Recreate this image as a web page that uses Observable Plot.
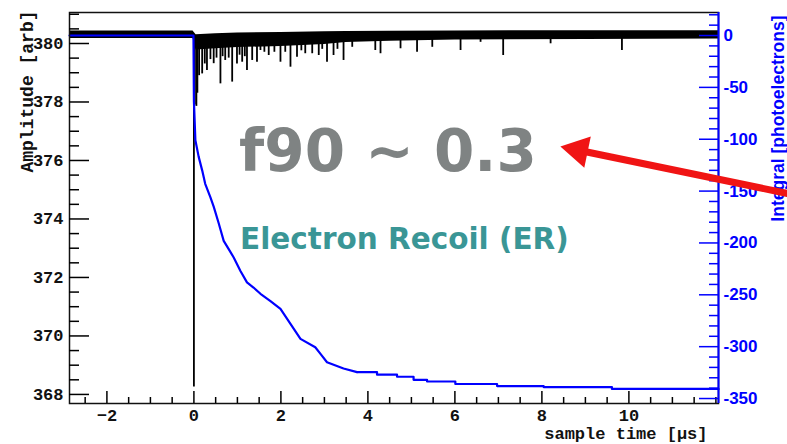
<!DOCTYPE html>
<html><head><meta charset="utf-8">
<script src="https://cdn.jsdelivr.net/npm/d3@7"></script>
<script src="https://cdn.jsdelivr.net/npm/@observablehq/plot@0.6"></script>
<style>
html,body{margin:0;padding:0;background:#fff;}
#chart svg{display:block;}
</style></head><body><div id="chart"></div>
<script>
// ---- scales / ticks ----
const xDomain = [-2.86, 12.06];
const ampDomain = [367.69, 381.06];
const intDomain = [-354.8, 22.2];
const xMajorTicks = [-2, 0, 2, 4, 6, 8, 10];
const ampMajorTicks = [368, 370, 372, 374, 376, 378, 380];
const intMajorTicks = [0, -50, -100, -150, -200, -250, -300, -350];

// ---- waveform (black): noise band envelope ----
const envTime = [-2.86, -0.02, 0.05, 0.5, 1.0, 2.0, 3.0, 3.5, 4.5, 6.0, 9.0, 12.06];
const envLow  = [380.17, 380.17, 379.78, 379.82, 379.86, 379.9, 379.97, 380.03, 380.08, 380.12, 380.14, 380.15];
const envHigh = [380.43, 380.43, 380.3, 380.33, 380.36, 380.38, 380.4, 380.41, 380.42, 380.43, 380.44, 380.44];

// ---- waveform (black): individual dips (time, minimum amplitude) ----
const dipTime = [0.0, 0.02, 0.057, 0.08, 0.12, 0.19, 0.25, 0.30, 0.38, 0.455, 0.52, 0.61, 0.66, 0.72, 0.80, 0.88, 0.99, 1.05, 1.11, 1.17, 1.22, 1.34, 1.45, 1.53, 1.62, 1.72, 1.85, 1.99, 2.1, 2.22, 2.37, 2.47, 2.56, 2.72, 2.87, 2.95, 3.06, 3.21, 3.3, 3.44, 3.64, 4.17, 4.29, 4.75, 5.13, 5.48, 6.13, 6.59, 7.11, 8.20, 9.84];
const dipMin  = [368.25, 377.9, 377.85, 378.3, 378.9, 378.96, 379.3, 379.08, 379.45, 379.31, 379.5, 378.62, 379.55, 379.42, 379.5, 378.68, 379.30, 379.6, 379.36, 379.55, 379.08, 379.42, 379.36, 379.76, 379.7, 379.59, 379.7, 379.36, 379.7, 379.19, 379.53, 379.75, 379.65, 379.65, 379.59, 379.8, 379.36, 379.59, 379.8, 379.42, 379.87, 379.76, 379.65, 379.82, 379.70, 379.87, 379.76, 380.04, 379.59, 379.99, 379.76];

// ---- integral (blue, right axis) ----
const intTime  = [-2.86, -0.01, 0.0, 0.034, 0.11, 0.19, 0.26, 0.38, 0.455, 0.57, 0.685, 0.80, 0.915, 1.07, 1.22, 1.37, 1.53, 1.76, 1.99, 2.22, 2.45, 2.79, 2.91, 3.06, 3.44, 3.75, 4.21, 4.67, 5.05, 5.36, 6.01, 6.97, 8.04, 9.61, 12.06];
const intValue = [0, 0, -63, -101, -117, -130, -143, -156, -165, -181, -198, -206, -214, -227, -238, -243, -249, -256, -263.5, -278, -292.5, -300.6, -307, -315, -321, -324.5, -327, -329, -332, -333.6, -336, -338, -339, -340.7, -341];

// ---- annotations ----
const annoText = ["f90 ~ 0.3", "Electron Recoil (ER)"];
const annoTime = [4.46, 4.84];
const annoAmp  = [376.29, 373.29];
const arrowTime = [13.644, 8.841];
const arrowAmp  = [374.87, 376.35];

// ---- build tables ----
const envelope = envTime.map((t, i) => ({t, lo: envLow[i], hi: envHigh[i]}));
const dips = dipTime.map((t, i) => ({t, min: dipMin[i]}));
const integral = intTime.map((t, i) => ({t, v: intValue[i]}));
const integralFast = integral.filter(d => d.t <= 3.75);
const integralTail = integral.filter(d => d.t >= 3.75);
const toAmp = d3.scaleLinear(intDomain, ampDomain);

const ampMinor = d3.range(368, 381.01, 0.5).filter(d => !ampMajorTicks.includes(d));
const xMinor = d3.range(-2.5, 12.01, 0.5).filter(d => !xMajorTicks.includes(d));
const intMinor = d3.range(-350, 20.01, 10).filter(d => !intMajorTicks.includes(d));

const BLUE = "#0000ff";
const MONO = "'Liberation Mono', 'DejaVu Sans Mono', monospace";
const SANS = "'Liberation Sans', Arial, sans-serif";
const blank = () => "";

const chart = Plot.plot({
  width: 787, height: 444,
  marginLeft: 69, marginRight: 69, marginTop: 12, marginBottom: 41,
  x: {domain: xDomain, label: null},
  y: {domain: ampDomain, label: null},
  style: {background: "white", overflow: "visible"},
  marks: [
    // waveform
    Plot.areaY(envelope, {x: "t", y1: "lo", y2: "hi", fill: "black"}),
    Plot.ruleX(dips, {x: "t", y1: 380.2, y2: "min", stroke: "black", strokeWidth: 1.8}),
    // integral
    Plot.line(integralFast, {x: "t", y: d => toAmp(d.v), stroke: BLUE, strokeWidth: 2.2}),
    Plot.line(integralTail, {x: "t", y: d => toAmp(d.v), stroke: BLUE, strokeWidth: 2.2, curve: "step-after"}),
    // frame
    Plot.frame({stroke: "#111", strokeWidth: 1.5}),
    Plot.ruleX([xDomain[1]], {stroke: BLUE, strokeWidth: 2}),
    // left axis (inward ticks)
    Plot.axisY(ampMajorTicks, {tickSize: 20, insetLeft: 20, tickFormat: blank, label: null, strokeWidth: 1.5}),
    Plot.axisY(ampMinor, {tickSize: 10, insetLeft: 10, tickFormat: blank, label: null, strokeWidth: 1.5}),
    Plot.axisY(ampMajorTicks, {tickSize: 0, tickPadding: 6, label: null, fontFamily: MONO, fontWeight: "bold", fontSize: 17, fill: "#111"}),
    // bottom axis
    Plot.axisX(xMajorTicks, {tickSize: 12, insetBottom: 12, tickFormat: blank, label: null, strokeWidth: 1.5}),
    Plot.axisX(xMinor, {tickSize: 6, insetBottom: 6, tickFormat: blank, label: null, strokeWidth: 1.5}),
    Plot.axisX(xMajorTicks, {tickSize: 0, tickPadding: 5, label: null, fontFamily: MONO, fontWeight: "bold", fontSize: 17, fill: "#111"}),
    // right axis (integral)
    Plot.axisY(intMajorTicks.map(toAmp), {anchor: "right", tickSize: 20, insetRight: 20, tickFormat: blank, label: null, stroke: BLUE, strokeWidth: 1.5}),
    Plot.axisY(intMinor.map(toAmp), {anchor: "right", tickSize: 10, insetRight: 10, tickFormat: blank, label: null, stroke: BLUE, strokeWidth: 1.5}),
    Plot.axisY(intMajorTicks.map(toAmp), {anchor: "right", tickSize: 0, tickPadding: 5, label: null,
      tickFormat: d => String(Math.round(toAmp.invert(d))), fill: BLUE, fontFamily: SANS, fontWeight: "bold", fontSize: 17}),
    // axis titles
    Plot.text(["Amplitude [arb]"], {frameAnchor: "top-left", rotate: -90, textAnchor: "end", dx: -49, dy: -2,
      fontFamily: MONO, fontWeight: "bold", fontSize: 18, fill: "#111"}),
    Plot.text(["sample time [µs]"], {frameAnchor: "bottom-right", textAnchor: "end", dx: -11, dy: 35,
      fontFamily: MONO, fontWeight: "bold", fontSize: 17, fill: "#111"}),
    Plot.text(["Integral [photoelectrons]"], {frameAnchor: "top-right", rotate: -90, textAnchor: "end", dx: 53, dy: 3,
      fontFamily: SANS, fontWeight: "bold", fontSize: 17.5, fill: BLUE}),
    // annotations
    Plot.text([0], {x: i => annoTime[0], y: i => annoAmp[0], text: i => annoText[0], fontFamily: "'DejaVu Sans', sans-serif", fontWeight: "bold", fontSize: 58, fill: "#7f8383"}),
    Plot.text([1], {x: i => annoTime[1], y: i => annoAmp[1], text: i => annoText[1], fontFamily: "'DejaVu Sans', sans-serif", fontWeight: "bold", fontSize: 29.5, fill: "#3a9696"}),
    Plot.line([0, 1], {x: i => arrowTime[i], y: i => arrowAmp[i], stroke: "#f01414", strokeWidth: 7}),
    Plot.dot([1], {x: i => arrowTime[i], y: i => arrowAmp[i], symbol: "triangle", r: 11.9, fill: "#f01414", stroke: "none", rotate: -78.3})
  ]
});
document.getElementById("chart").appendChild(chart);
</script>
</body></html>
